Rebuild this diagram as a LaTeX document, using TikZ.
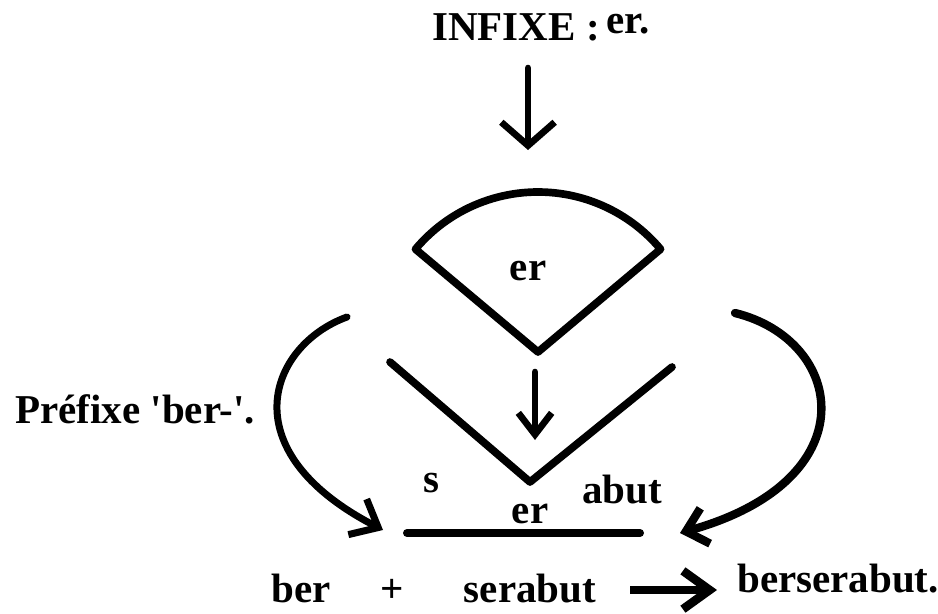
\documentclass[tikz,border=0pt]{standalone}
\usepackage{fontspec}
\setmainfont{Liberation Serif}
\usepackage{tikz}
\usetikzlibrary{arrows.meta, positioning}

\begin{document}
\begin{tikzpicture}[x=0.3mm, y=-0.3mm,
    lbl/.style={font=\bfseries\fontsize{35}{40}\selectfont, inner sep=0pt, anchor=base},
    stroke/.style={line width=2.3mm, line cap=round, line join=round}]
  \useasboundingbox (0,0) rectangle (938,613);

  % texts
  \node[lbl, anchor=base west] (infixe) at (432,40) {INFIXE :\,\raisebox{2.1mm}{er.}};
  \node[lbl] (fanEr) at (528,280) {er};
  \node[lbl, anchor=base west] (prefixe) at (15,423) {Préfixe \textquotesingle ber-\textquotesingle.};
  \node[lbl] (sLetter) at (431,492) {s};
  \node[lbl] (lowEr) at (530,523) {er};
  \node[lbl] (abut) at (622,503) {abut};
  \node[lbl] (ber) at (301,602) {ber};
  \node[lbl] (plus) at (392,602) {+};
  \node[lbl] (serabut) at (530,602) {serabut};
  \node[lbl, anchor=base west] (result) at (737,592) {berserabut.};

  % points
  \coordinate (topS) at (528,68);
  \coordinate (topE) at (528,150);
  \coordinate (apex) at (538,352);
  \coordinate (midS) at (535,372);
  \coordinate (midE) at (535,440);
  \coordinate (vl) at (390,362);
  \coordinate (vb) at (530,482);
  \coordinate (vr) at (672,367);
  \coordinate (bl) at (407,533);
  \coordinate (br) at (640,533);
  \coordinate (lS) at (347,317);
  \coordinate (lE) at (383,530);
  \coordinate (rS) at (735,313);
  \coordinate (rE) at (680,533);
  \coordinate (aS) at (630,590);
  \coordinate (aE) at (717,590);

  % infix arrow and fan
  \draw[stroke, line width=2mm, -{Straight Barb[length=7mm, width=16mm]}] (topS) -- (topE);
  \draw[stroke] (apex) -- ++(140:48mm) arc[start angle=140, end angle=40, radius=48mm] -- cycle;
  \draw[stroke, line width=2mm, -{Straight Barb[length=6.5mm, width=10mm]}] (midS) -- (midE);

  % base word
  \draw[stroke] (vl) -- (vb) -- (vr);
  \draw[line width=2.4mm, line cap=round] (bl) -- (br);

  % prefix and suffix arrows
  \draw[stroke, line width=2.1mm, -{Straight Barb[length=7mm, width=12mm]}] (lS) .. controls (270,345) and (228,450) .. (lE);
  \draw[stroke, line width=2.5mm, -{Straight Barb[length=6mm, width=11mm]}] (rS) .. controls (845,340) and (870,480) .. (rE);
  \draw[line width=2.6mm, -{Straight Barb[length=8mm, width=11.5mm]}] (aS) -- (aE);
\end{tikzpicture}
\end{document}
